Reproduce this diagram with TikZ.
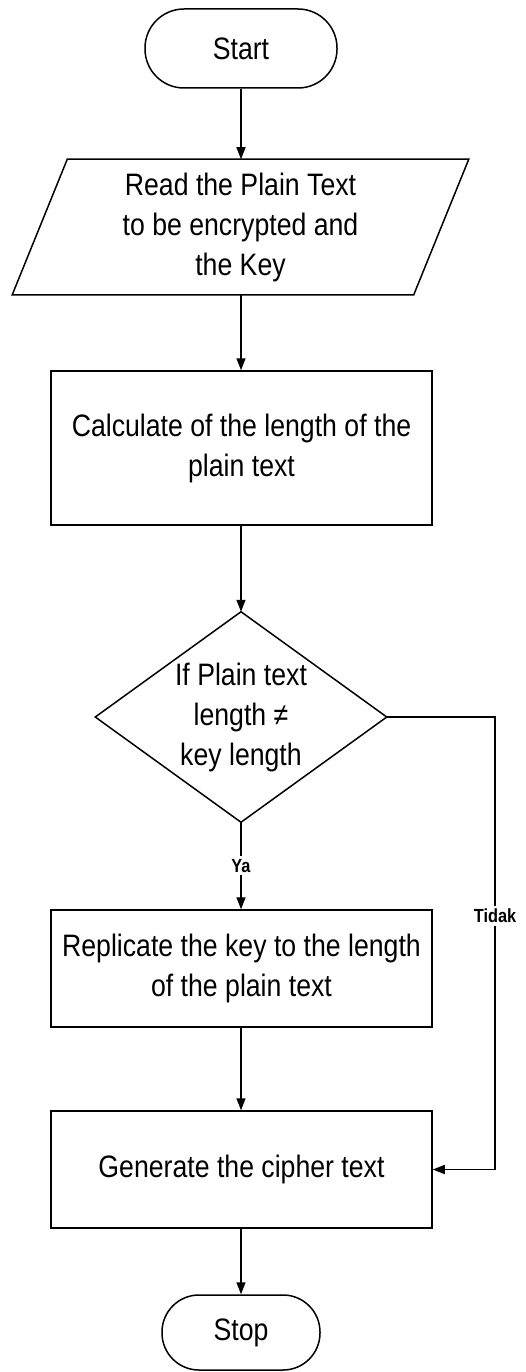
\documentclass[tikz,border=0pt]{standalone}
\usepackage{fontspec}
\setmainfont{Liberation Sans}[FakeStretch=0.86]
\usetikzlibrary{arrows.meta,calc}
\newcommand{\mainfnt}{\fontsize{31}{40}\selectfont}
\newcommand{\lblfnt}{\fontsize{19}{22}\selectfont\bfseries}
\begin{document}
\begin{tikzpicture}[x=1pt,y=-1pt,line width=1.5pt,
  every node/.style={inner sep=0pt, align=center, font=\mainfnt},
  procbox/.style={draw, rectangle, minimum width=381pt},
  termbox/.style={draw, rectangle},
  ghost/.style={draw=none, rectangle},
  lbl/.style={font=\lblfnt, fill=white, inner sep=3pt},
  arr/.style={-{Triangle[length=12pt,width=9pt]}}]
\useasboundingbox (0,0) rectangle (526,1372);
\fill[white] (0,0) rectangle (526,1372);

\node[termbox, rounded corners=39pt, minimum width=192pt, minimum height=79pt] (start) at (241,48.5) {Start};
\node[ghost, minimum width=400pt, minimum height=134pt] (read) at (240.5,227) {Read the Plain Text\\to be encrypted and\\the Key};
\draw ([xshift=27.5pt]read.north west) -- ([xshift=27.5pt]read.north east) -- ([xshift=-27.5pt]read.south east) -- ([xshift=-27.5pt]read.south west) -- cycle;
\node[procbox, minimum height=154pt] (calc) at (241.5,448) {Calculate of the length of the\\plain text};
\node[ghost, minimum width=290pt, minimum height=209pt] (dec) at (241,717) {If Plain text\\length ≠\\key length};
\draw (dec.north) -- (dec.east) -- (dec.south) -- (dec.west) -- cycle;
\node[procbox, minimum height=117pt] (rep) at (241.5,968.5) {Replicate the key to the length\\of the plain text};
\node[procbox, minimum height=117pt] (gen) at (241.5,1169.5) {Generate the cipher text};
\node[termbox, rounded corners=37pt, minimum width=158pt, minimum height=75pt] (stop) at (241,1332.5) {Stop};
\coordinate (corner) at (495,1169.5);

\draw[arr] (start.south) -- (start.south |- read.north);
\draw[arr] (read.south -| start.south) -- (calc.north -| start.south);
\draw[arr] (calc.south -| dec.north) -- (dec.north);
\draw[arr] (dec.south) -- node[lbl]{Ya} (dec.south |- rep.north);
\draw[arr] (rep.south -| dec.south) -- (gen.north -| dec.south);
\draw[arr] (gen.south -| stop.north) -- (stop.north);
\draw[arr] (dec.east) -- (dec.east -| corner) -- node[lbl, pos=0.44]{Tidak} (corner) -- (gen.east);
\end{tikzpicture}
\end{document}
